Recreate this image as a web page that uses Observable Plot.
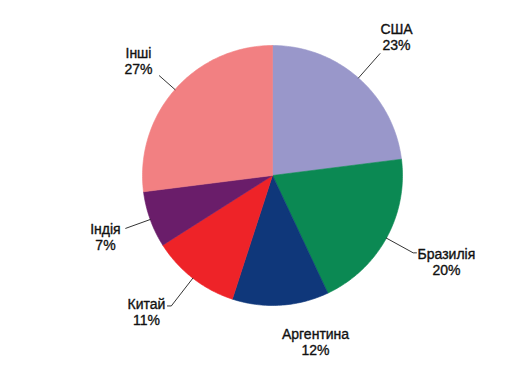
<!DOCTYPE html>
<html>
<head>
<meta charset="utf-8">
<script src="https://cdn.jsdelivr.net/npm/d3@7"></script>
<script src="https://cdn.jsdelivr.net/npm/@observablehq/plot@0.6"></script>
<style>
  html, body { margin: 0; padding: 0; background: #fff; }
  #chart { width: 529px; height: 369px; }
</style>
</head>
<body>
<div id="chart"></div>
<script>
// ---- data ----
const names  = ["США", "Бразилія", "Аргентина", "Китай", "Індія", "Інші"];
const values = [23, 20, 12, 11, 7, 27];
const colors = ["#9997ca", "#0b8953", "#0f377a", "#ee2328", "#6a1d6a", "#f28082"];
const labels = names.map((n, i) => `${n}\n${values[i]}%`);

// ---- annotation layout (unit-circle coordinates) ----
const labelAt = [[0.954, 1.069], [1.338, -0.662], [0.331, -1.277], [-0.969, -1.046], [-1.285, -0.469], [-1.031, 0.885]];
const leaderR = [1.25, 1.235, 0, 1.27, 1.2, 1.16];
const leaderTail = [0, 0.025, 0, -0.03, 0, 0];

// ---- pie geometry via d3.pie ----
const arcs = d3.pie().sort(null).value(d => d)(values);
const slicePts = [];
arcs.forEach((a, i) => {
  slicePts.push({name: names[i], x: 0, y: 0});
  const n = Math.max(8, Math.ceil((a.endAngle - a.startAngle) * 60));
  for (let k = 0; k <= n; k++) {
    const t = a.startAngle + (a.endAngle - a.startAngle) * k / n;
    slicePts.push({name: names[i], x: Math.sin(t), y: Math.cos(t)});
  }
  slicePts.push({name: names[i], x: 0, y: 0});
});

const leaders = [];
arcs.forEach((a, i) => {
  if (!leaderR[i]) return;
  const m = (a.startAngle + a.endAngle) / 2;
  const ex = leaderR[i] * Math.sin(m), ey = leaderR[i] * Math.cos(m);
  leaders.push({name: names[i], x: Math.sin(m), y: Math.cos(m)});
  leaders.push({name: names[i], x: ex, y: ey});
  if (leaderTail[i]) leaders.push({name: names[i], x: ex + leaderTail[i], y: ey});
});

const labelData = names.map((n, i) => ({text: labels[i], x: labelAt[i][0], y: labelAt[i][1]}));

const chart = Plot.plot({
  width: 529,
  height: 369,
  marginLeft: 142,
  marginRight: 127,
  marginTop: 45,
  marginBottom: 64,
  x: {domain: [-1, 1], axis: null},
  y: {domain: [-1, 1], axis: null},
  color: {domain: names, range: colors},
  style: {fontFamily: "'Liberation Sans', Arial, sans-serif", background: "#fff"},
  marks: [
    Plot.line(slicePts, {x: "x", y: "y", z: "name", fill: "name", stroke: "name", strokeWidth: 0.6, curve: "linear"}),
    Plot.line(leaders, {x: "x", y: "y", z: "name", stroke: "#000", strokeWidth: 0.8}),
    Plot.text(labelData, {x: "x", y: "y", text: "text", fontSize: 14, fill: "#111", stroke: "#111", strokeWidth: 0.35, lineHeight: 1.17, textAnchor: "middle"})
  ]
});
document.getElementById("chart").appendChild(chart);
</script>
</body>
</html>
